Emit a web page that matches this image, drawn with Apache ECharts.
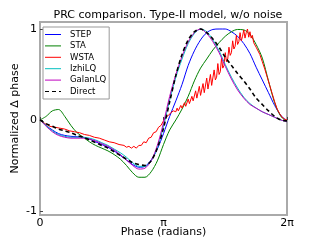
<!DOCTYPE html>
<html>
<head>
<meta charset="utf-8">
<script src="https://cdn.jsdelivr.net/npm/echarts@6/dist/echarts.min.js"></script>
<style>html,body{margin:0;padding:0;background:#fff}#c{width:320px;height:240px}</style>
</head>
<body>
<div id="c"></div>
<script>
// Phase as fraction of the period (0..1), multiplied by 2π for plotting
var phaseFrac = [0,0.025,0.05,0.075,0.1,0.125,0.15,0.175,0.2,0.225,0.25,0.275,0.3,0.325,0.35,0.375,0.4,0.425,0.45,0.475,0.5,0.525,0.55,0.575,0.6,0.625,0.65,0.675,0.7,0.725,0.75,0.775,0.8,0.825,0.85,0.875,0.9,0.925,0.95,0.975,1];
var stepValues = [0,-0.06,-0.11,-0.15,-0.17,-0.18,-0.185,-0.19,-0.21,-0.24,-0.27,-0.30,-0.34,-0.39,-0.44,-0.49,-0.52,-0.51,-0.44,-0.32,-0.15,0.04,0.21,0.39,0.60,0.76,0.88,0.96,0.995,1.0,1.0,0.97,0.92,0.84,0.73,0.58,0.44,0.30,0.16,0.05,-0.01];
var staValues = [0,0.04,0.10,0.115,0.04,-0.06,-0.14,-0.19,-0.24,-0.28,-0.31,-0.34,-0.38,-0.43,-0.50,-0.58,-0.63,-0.63,-0.57,-0.45,-0.27,-0.11,0.0,0.12,0.26,0.43,0.57,0.67,0.77,0.85,0.92,0.97,0.995,0.99,0.94,0.83,0.68,0.43,0.19,0.04,-0.02];
var izhiValues = [0,-0.06,-0.12,-0.16,-0.18,-0.19,-0.19,-0.19,-0.20,-0.22,-0.25,-0.28,-0.32,-0.36,-0.41,-0.47,-0.51,-0.51,-0.45,-0.31,-0.07,0.22,0.47,0.67,0.84,0.95,1.0,0.97,0.88,0.76,0.61,0.47,0.35,0.25,0.18,0.13,0.09,0.06,0.03,0.0,-0.02];
var galanValues = [0,-0.07,-0.13,-0.17,-0.19,-0.20,-0.20,-0.20,-0.21,-0.23,-0.26,-0.29,-0.33,-0.38,-0.44,-0.50,-0.54,-0.53,-0.45,-0.28,-0.03,0.26,0.50,0.70,0.86,0.96,1.0,0.95,0.86,0.74,0.59,0.45,0.33,0.24,0.17,0.13,0.09,0.06,0.03,0.0,-0.02];
var directValues = [0,-0.04,-0.07,-0.10,-0.12,-0.14,-0.17,-0.19,-0.22,-0.25,-0.28,-0.31,-0.35,-0.39,-0.43,-0.47,-0.49,-0.50,-0.45,-0.31,-0.09,0.20,0.49,0.72,0.88,0.97,1.0,0.96,0.89,0.80,0.69,0.60,0.51,0.43,0.34,0.24,0.17,0.10,0.04,0.0,-0.01];

// WSTA (noisy) on its own finer phase grid
var wstaPhase = [0,0.02,0.04,0.06,0.08,0.10,0.12,0.14,0.16,0.18,0.20,0.22,0.24,0.26,0.28,0.30,0.32,0.34,0.35,0.36,0.37,0.38,0.39,0.40,0.41,0.42,0.43,0.44,0.45,0.46,0.47,0.48,0.49,0.50,
0.505,0.51,0.515,0.52,0.525,0.53,0.535,0.54,0.545,0.55,0.555,0.56,0.565,0.57,0.575,0.58,0.585,0.59,0.595,0.60,0.605,0.61,0.615,0.62,0.625,0.63,0.635,0.64,0.645,0.65,0.655,0.66,0.665,0.67,0.675,0.68,0.685,0.69,0.695,0.70,0.705,0.71,0.715,0.72,0.725,0.73,0.735,0.74,0.745,0.75,0.755,0.76,0.765,0.77,0.775,0.78,0.785,0.79,0.795,0.80,0.805,0.81,0.815,0.82,0.825,0.83,0.835,0.84,0.845,0.85,0.855,0.86,0.865,0.87,0.875,0.88,0.89,0.90,
0.91,0.92,0.93,0.94,0.95,0.96,0.97,0.98,0.99,1.0];
var wstaValues = [0,-0.04,-0.07,-0.08,-0.09,-0.10,-0.12,-0.13,-0.14,-0.16,-0.17,-0.19,-0.20,-0.22,-0.24,-0.25,-0.27,-0.28,-0.30,-0.29,-0.31,-0.29,-0.31,-0.28,-0.28,-0.24,-0.25,-0.20,-0.19,-0.14,-0.13,-0.08,-0.06,-0.01,
0.00,0.03,0.02,0.05,0.04,0.08,0.06,0.10,0.08,0.09,0.13,0.10,0.12,0.16,0.13,0.14,0.19,0.15,0.17,0.23,0.18,0.19,0.26,0.21,0.22,0.32,0.24,0.25,0.37,0.27,0.29,0.40,0.30,0.32,0.46,0.34,0.36,0.50,0.38,0.40,0.55,0.44,0.47,0.62,0.50,0.53,0.68,0.57,0.60,0.74,0.64,0.67,0.80,0.71,0.74,0.87,0.78,0.81,0.93,0.83,0.86,0.96,0.87,0.92,0.99,0.90,0.96,1.0,0.91,0.97,0.90,0.93,0.85,0.87,0.80,0.78,0.72,0.64,
0.56,0.47,0.38,0.29,0.20,0.12,0.07,0.03,0.01,0.0];

var xTickLabels = {0: '0', 1: 'π', 2: '2π'};
var yTicks = [-1, 0, 1];
var legendNames = ['STEP', 'STA', 'WSTA', 'IzhiLQ', 'GalanLQ', 'Direct'];

var TWO_PI = 2 * Math.PI;
function pairs(xs, ys) { return xs.map(function (f, i) { return [f * TWO_PI, ys[i]]; }); }

var FONT = 'DejaVu Sans';
var SOLID_ICON = 'path://M0,0 H16 V1 H0 Z';
var DASH_ICON = 'path://M0,0 H4 V1 H0 Z M7,0 H11 V1 H7 Z M14,0 H16 V1 H14 Z';

function lineSeries(name, xs, ys, color, extra) {
  return {
    name: name, type: 'line', data: pairs(xs, ys), symbol: 'none', showSymbol: false,
    smooth: extra && extra.smooth !== undefined ? extra.smooth : 0.3,
    lineStyle: Object.assign({ color: color, width: 1 }, (extra && extra.lineStyle) || {}),
    itemStyle: { color: color }, animation: false
  };
}

var chart = echarts.init(document.getElementById('c'), null, { renderer: 'canvas' });
chart.setOption({
  animation: false,
  backgroundColor: '#fff',
  title: {
    text: 'PRC comparison. Type-II model, w/o noise',
    left: 163, top: 5, textAlign: 'center',
    textStyle: { fontFamily: FONT, fontSize: 11, fontWeight: 'normal', color: '#000' }
  },
  legend: {
    orient: 'vertical', left: 43, top: 27,
    backgroundColor: '#fff', borderColor: '#999', borderWidth: 1, borderRadius: 0,
    padding: [2, 3, 2, 2],
    itemWidth: 16, itemHeight: 1.5, itemGap: 0.4,
    textStyle: { fontFamily: FONT, fontSize: 8.5, color: '#000', lineHeight: 11, padding: [0, 0, 0, 4] },
    data: legendNames.map(function (n) { return { name: n, icon: n === 'Direct' ? DASH_ICON : SOLID_ICON }; })
  },
  grid: { left: 40, right: 33, top: 22, bottom: 25, show: true, borderColor: '#aaa', borderWidth: 2,
    containLabel: false, outerBoundsMode: 'none' },
  xAxis: {
    type: 'value', min: 0, max: TWO_PI, interval: Math.PI,
    name: 'Phase (radians)', nameLocation: 'middle', nameGap: 12, nameMoveOverlap: false,
    nameTextStyle: { fontFamily: FONT, fontSize: 11, color: '#000' },
    axisLine: { show: false },
    axisTick: { show: true, inside: true, length: 3, lineStyle: { color: '#444' } },
    splitLine: { show: false },
    axisLabel: {
      fontFamily: FONT, fontSize: 11, color: '#000', margin: 3,
      formatter: function (v) { var k = Math.round(v / Math.PI); return xTickLabels[k] || ''; }
    }
  },
  yAxis: {
    type: 'value', min: -1.045, max: 1.077,
    name: 'Normalized Δ phase', nameLocation: 'middle', nameGap: 19, nameMoveOverlap: false,
    nameTextStyle: { fontFamily: FONT, fontSize: 11, color: '#000' },
    axisLine: { show: false },
    axisTick: { show: true, inside: true, length: 3, lineStyle: { color: '#444' }, customValues: yTicks },
    splitLine: { show: false },
    axisLabel: { fontFamily: FONT, fontSize: 11, color: '#000', margin: 3, customValues: yTicks,
      formatter: function (v) { return String(v); } }
  },
  series: [
    lineSeries('STEP', phaseFrac, stepValues, '#0000ff'),
    lineSeries('STA', phaseFrac, staValues, '#008000'),
    lineSeries('WSTA', wstaPhase, wstaValues, '#ff0000', { smooth: false }),
    lineSeries('IzhiLQ', phaseFrac, izhiValues, '#00bfbf'),
    lineSeries('GalanLQ', phaseFrac, galanValues, '#bf00bf'),
    lineSeries('Direct', phaseFrac, directValues, '#000000', { lineStyle: { type: [4, 3], width: 1.6 } })
  ]
});
</script>
</body>
</html>
